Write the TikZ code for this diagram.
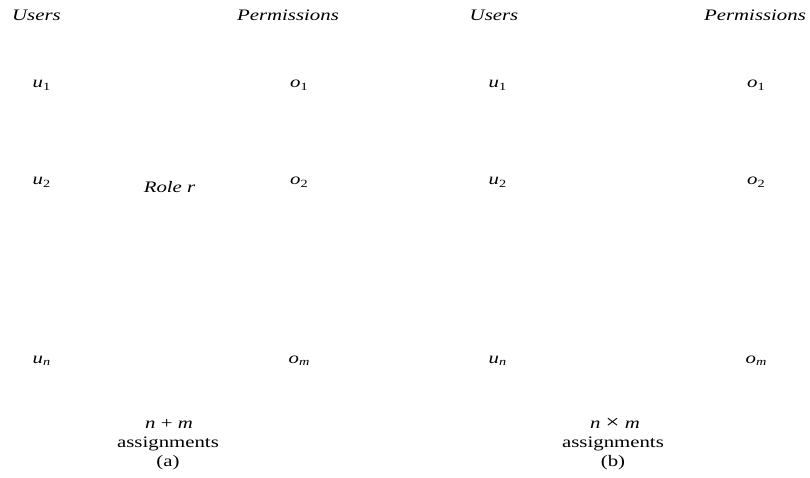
\documentclass[tikz,border=0pt]{standalone}
\usepackage{fontspec}
\setmainfont[FakeStretch=1.3]{Liberation Serif}
\newcommand\lbl[2]{\textit{#1}\raisebox{-0.35ex}{\fontsize{11}{11}\selectfont #2}}
\newcommand\timessign{\raisebox{-0.1ex}{\fontsize{19}{19}\selectfont ×}}
\begin{document}
\begin{tikzpicture}[x=1pt,y=-1pt,
  every node/.style={inner sep=0pt,anchor=base,font=\fontsize{16}{19}\selectfont},
  head/.style={font=\fontsize{16}{19}\selectfont\itshape},
  caption/.style={align=center}]
\useasboundingbox (0,0) rectangle (810,478);

% (a) one role between the users and the permissions
\node[head] (usersA) at (36.5,21) {Users};
\node[head] (permsA) at (288,21) {Permissions};
\node (u1A) at (41.5,88) {\lbl{u}{1}};
\node (u2A) at (41.5,185) {\lbl{u}{2}};
\node (unA) at (41.5,363) {\lbl{u}{\textit{n}}};
\node (o1A) at (299,88) {\lbl{o}{1}};
\node (o2A) at (299,185) {\lbl{o}{2}};
\node (omA) at (299,363) {\lbl{o}{\textit{m}}};
\node[head] (role) at (169.5,193) {Role r};
\node (sumA) at (169,428) {\textit{n} + \textit{m}};
\node (asgA) at (168,447) {assignments};
\node (capA) at (168,466) {(a)};

% (b) every user assigned to every permission directly
\node[head] (usersB) at (494,21) {Users};
\node[head] (permsB) at (755,21) {Permissions};
\node (u1B) at (497.5,88) {\lbl{u}{1}};
\node (u2B) at (497.5,185) {\lbl{u}{2}};
\node (unB) at (497.5,363) {\lbl{u}{\textit{n}}};
\node (o1B) at (756,88) {\lbl{o}{1}};
\node (o2B) at (756,185) {\lbl{o}{2}};
\node (omB) at (756,363) {\lbl{o}{\textit{m}}};
\node (sumB) at (615,428) {\textit{n} \timessign{} \textit{m}};
\node (asgB) at (613,447) {assignments};
\node (capB) at (613,466) {(b)};
\end{tikzpicture}
\end{document}
